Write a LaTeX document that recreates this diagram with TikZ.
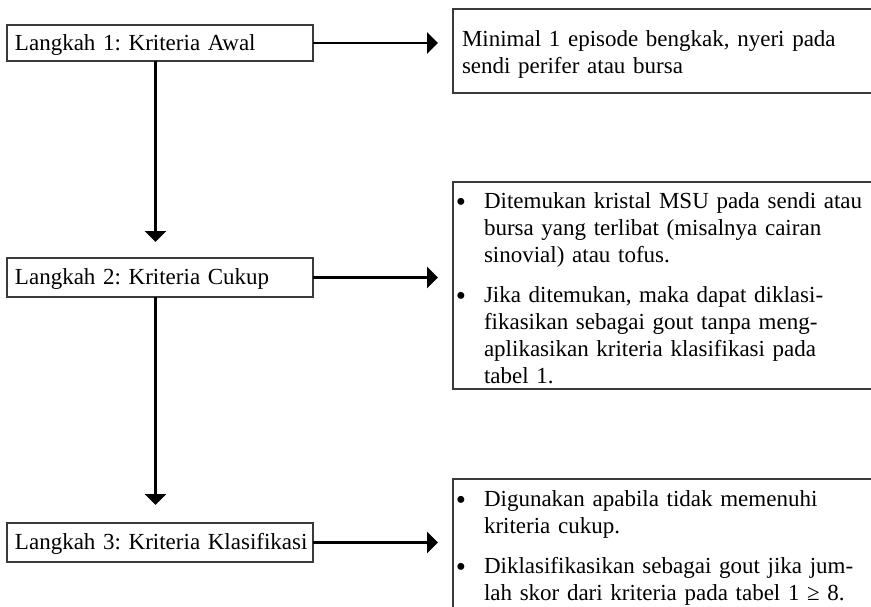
\documentclass[tikz,border=0pt]{standalone}
\usepackage{fontspec}
\setmainfont{Liberation Serif}
\usetikzlibrary{arrows.meta}
\definecolor{boxgray}{HTML}{3A3A3A}
\frenchspacing
\begin{document}
\begin{tikzpicture}[x=1pt,y=-1pt,
  every node/.style={inner sep=0pt, outer sep=0pt, font=\fontsize{23}{27}\selectfont\frenchspacing},
  stepbox/.style={draw=boxgray, line width=1.1pt, anchor=north west, minimum width=306pt,
    text width=306pt, align=left, execute at begin node={\hspace*{8pt}},
    text height=17pt, text depth=3pt},
  panel/.style={anchor=north west, minimum width=420pt},
  panelline/.style={draw=boxgray, line width=1.1pt},
  txt/.style={anchor=base west, text width=400pt, align=left,
    font=\fontsize{23}{27}\selectfont\frenchspacing},
  bul/.style={anchor=base, font=\fontsize{29}{27}\selectfont, yshift=-3pt},
  flow/.style={line width=2.4pt, -{Triangle[length=11pt,width=21pt]}},
]
\useasboundingbox (0,0) rectangle (871,606);

% left step boxes
\node[stepbox, minimum height=36pt] (s1) at (7,25) {Langkah 1: Kriteria Awal};
\node[stepbox, minimum height=39pt] (s2) at (7,258) {Langkah 2: Kriteria Cukup};
\node[stepbox, minimum height=39pt] (s3) at (7,523) {Langkah 3: Kriteria Klasifikasi};

% arrow end points
\coordinate (v1) at (155.5,242);
\coordinate (v2) at (155.5,505);
\coordinate (hx) at (438,0);

\draw[flow] (s1.south -| v1) -- (v1);
\draw[flow] (s2.south -| v2) -- (v2);
\draw[flow] (s1.east) -- (s1.east -| hx);
\draw[flow] (s2.east) -- (s2.east -| hx);
\draw[flow] (s3.east) -- (s3.east -| hx);

% right panels
\node[panel, minimum height=84pt] (r1) at (453,9) {};
\node[panel, minimum height=207pt] (r2) at (453,182) {};
\node[panel, minimum height=140pt] (r3) at (453,479) {};
\draw[panelline] (r1.north east) -- (r1.north west) -- (r1.south west) -- (r1.south east);
\draw[panelline] (r2.north east) -- (r2.north west) -- (r2.south west) -- (r2.south east);
\draw[panelline] (r3.north east) -- (r3.north west) -- (r3.south west);

% panel texts
\node[txt, text width=400pt] (t1) at (462,46) {Minimal 1 episode bengkak, nyeri pada\\sendi perifer atau bursa};

\node[bul] (b21) at (461,208) {•};
\node[txt] (t21) at (484,208) {Ditemukan kristal MSU pada sendi atau\\bursa yang terlibat (misalnya cairan\\sinovial) atau tofus.};
\node[bul] (b22) at (461,302) {•};
\node[txt] (t22) at (484,302) {Jika ditemukan, maka dapat diklasi-\\fikasikan sebagai gout tanpa meng-\\aplikasikan kriteria klasifikasi pada\\tabel 1.};

\node[bul] (b31) at (461,506) {•};
\node[txt] (t31) at (484,506) {Digunakan apabila tidak memenuhi\\kriteria cukup.};
\node[bul] (b32) at (461,573) {•};
\node[txt] (t32) at (484,573) {Diklasifikasikan sebagai gout jika jum-\\lah skor dari kriteria pada tabel 1 ≥ 8.};
\end{tikzpicture}
\end{document}
